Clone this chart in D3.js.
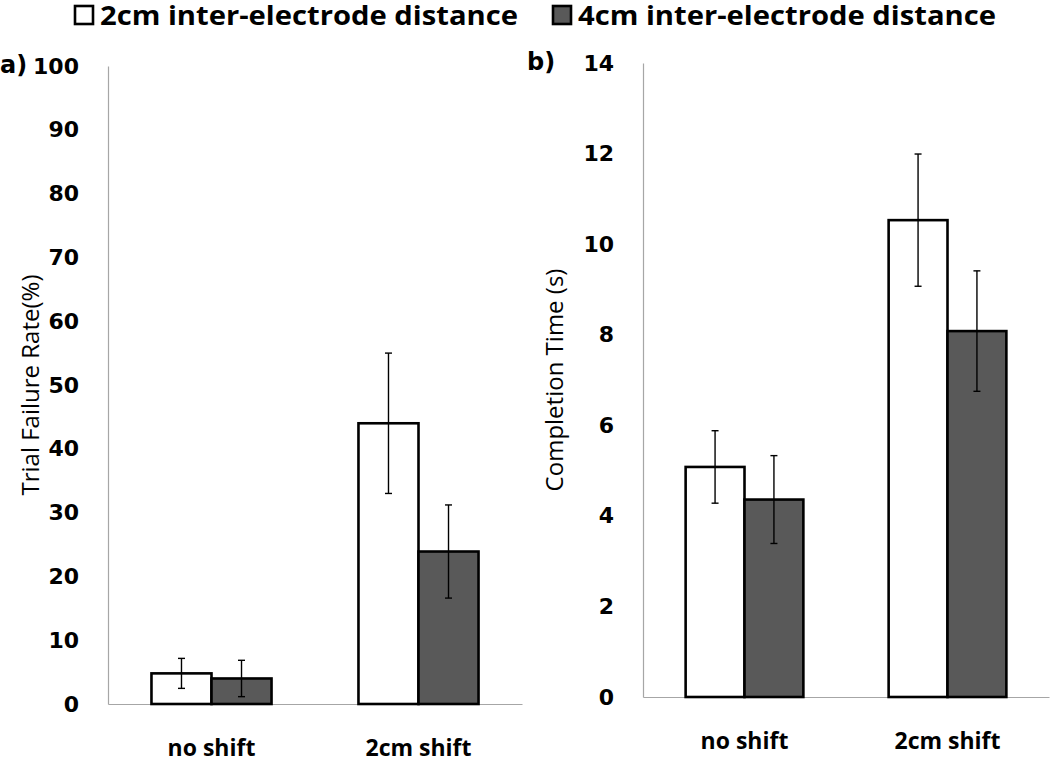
<!DOCTYPE html>
<html>
<head>
<meta charset="utf-8">
<script src="https://cdn.jsdelivr.net/npm/d3@7"></script>
<style>
  html, body { margin: 0; padding: 0; background: #ffffff; }
  svg { display: block; }
</style>
</head>
<body>
<svg id="chart" width="1050" height="760"></svg>
<script>
// ---- data ----
const categories = ["no shift", "2cm shift"];
const seriesNames = ["2cm inter-electrode distance", "4cm inter-electrode distance"];
const seriesColors = ["#ffffff", "#595959"];

const failure2cm = [4.8, 44.0];
const failure4cm = [4.0, 23.9];
const failureErr2cm = [2.35, 11.0];
const failureErr4cm = [2.85, 7.3];
const failureTicks = [0, 10, 20, 30, 40, 50, 60, 70, 80, 90, 100];

const time2cm = [5.08, 10.53];
const time4cm = [4.36, 8.08];
const timeErr2cm = [0.8, 1.46];
const timeErr4cm = [0.97, 1.33];
const timeTicks = [0, 2, 4, 6, 8, 10, 12, 14];

// ---- drawing ----
const svg = d3.select("#chart");
const axisGrey = "#a6a6a6";

function panel(opts) {
  const g = svg.append("g");
  const x = d3.scaleBand().domain(categories).range(opts.xRange).paddingInner(0).paddingOuter(0);
  const bw = x.bandwidth();
  const x1 = d3.scaleBand().domain(seriesNames).range([bw * 0.21, bw * 0.79]).padding(0);
  const y = d3.scaleLinear().domain([0, opts.max]).range(opts.yRange);

  // y axis
  const yAxis = g.append("g")
    .attr("transform", `translate(${opts.xRange[0]},0)`)
    .call(d3.axisLeft(y).tickValues(opts.ticks).tickSize(0).tickSizeOuter(0).tickPadding(29));
  yAxis.select(".domain").attr("stroke", axisGrey).attr("stroke-width", 1.2);
  yAxis.selectAll("text")
    .attr("font-family", "DejaVu Sans")
    .attr("font-weight", "bold")
    .attr("font-size", 22)
    .attr("fill", "#000");

  // x axis
  const xAxis = g.append("g")
    .attr("transform", `translate(0,${opts.yRange[0]})`)
    .call(d3.axisBottom(x).tickSize(0).tickSizeOuter(0).tickPadding(36));
  xAxis.select(".domain").attr("stroke", axisGrey).attr("stroke-width", 1.2);
  xAxis.selectAll("text")
    .attr("font-family", "Open Sans")
    .attr("font-weight", "bold")
    .attr("font-size", 23)
    .attr("fill", "#000");

  // axis title
  const midY = (opts.yRange[0] + opts.yRange[1]) / 2;
  g.append("text")
    .attr("transform", `translate(${opts.titleX},${midY}) rotate(-90)`)
    .attr("text-anchor", "middle")
    .attr("dominant-baseline", "middle")
    .attr("font-family", "Open Sans")
    .attr("font-size", 24)
    .attr("fill", "#000")
    .text(opts.title);

  // panel label
  g.append("text")
    .attr("x", opts.labelX)
    .attr("y", y(opts.max))
    .attr("dominant-baseline", "middle")
    .attr("font-family", "DejaVu Sans")
    .attr("font-weight", "bold")
    .attr("font-size", 24)
    .attr("fill", "#000")
    .text(opts.label);

  const rows = [];
  categories.forEach((c, i) => {
    rows.push({ cat: c, s: seriesNames[0], v: opts.vals[0][i], e: opts.errs[0][i], fill: seriesColors[0] });
    rows.push({ cat: c, s: seriesNames[1], v: opts.vals[1][i], e: opts.errs[1][i], fill: seriesColors[1] });
  });

  g.selectAll("rect.bar").data(rows).enter().append("rect")
    .attr("class", "bar")
    .attr("x", d => x(d.cat) + x1(d.s))
    .attr("y", d => y(d.v))
    .attr("width", x1.bandwidth())
    .attr("height", d => y(0) - y(d.v))
    .attr("fill", d => d.fill)
    .attr("stroke", "#000")
    .attr("stroke-width", 2.6);

  const cap = 3.5;
  const cx = d => x(d.cat) + x1(d.s) + x1.bandwidth() / 2;
  const eb = g.selectAll("g.err").data(rows).enter().append("g").attr("class", "err")
    .attr("stroke", "#000").attr("stroke-width", 1.4);
  eb.append("line")
    .attr("x1", cx).attr("x2", cx)
    .attr("y1", d => y(d.v + d.e))
    .attr("y2", d => y(d.v - d.e));
  eb.append("line")
    .attr("x1", d => cx(d) - cap).attr("x2", d => cx(d) + cap)
    .attr("y1", d => y(d.v + d.e)).attr("y2", d => y(d.v + d.e));
  eb.append("line")
    .attr("x1", d => cx(d) - cap).attr("x2", d => cx(d) + cap)
    .attr("y1", d => y(d.v - d.e)).attr("y2", d => y(d.v - d.e));
}

panel({
  xRange: [108, 522], yRange: [704, 66], max: 100, ticks: failureTicks,
  vals: [failure2cm, failure4cm], errs: [failureErr2cm, failureErr4cm],
  title: "Trial Failure Rate(%)", titleX: 33, label: "a)", labelX: 0
});
panel({
  xRange: [643, 1049], yRange: [697, 63], max: 14, ticks: timeTicks,
  vals: [time2cm, time4cm], errs: [timeErr2cm, timeErr4cm],
  title: "Completion Time (s)", titleX: 557, label: "b)", labelX: 527
});

// legend
const legendX = [75, 553];
const legend = svg.append("g");
seriesNames.forEach((name, i) => {
  legend.append("rect")
    .attr("x", legendX[i]).attr("y", 6)
    .attr("width", 18).attr("height", 18)
    .attr("fill", seriesColors[i])
    .attr("stroke", "#000").attr("stroke-width", 2.6);
  legend.append("text")
    .attr("x", legendX[i] + 25).attr("y", 25)
    .attr("font-family", "Open Sans")
    .attr("font-weight", "bold")
    .attr("font-size", 27)
    .attr("textLength", 418)
    .attr("lengthAdjust", "spacingAndGlyphs")
    .attr("fill", "#000")
    .text(name);
});
</script>
</body>
</html>
